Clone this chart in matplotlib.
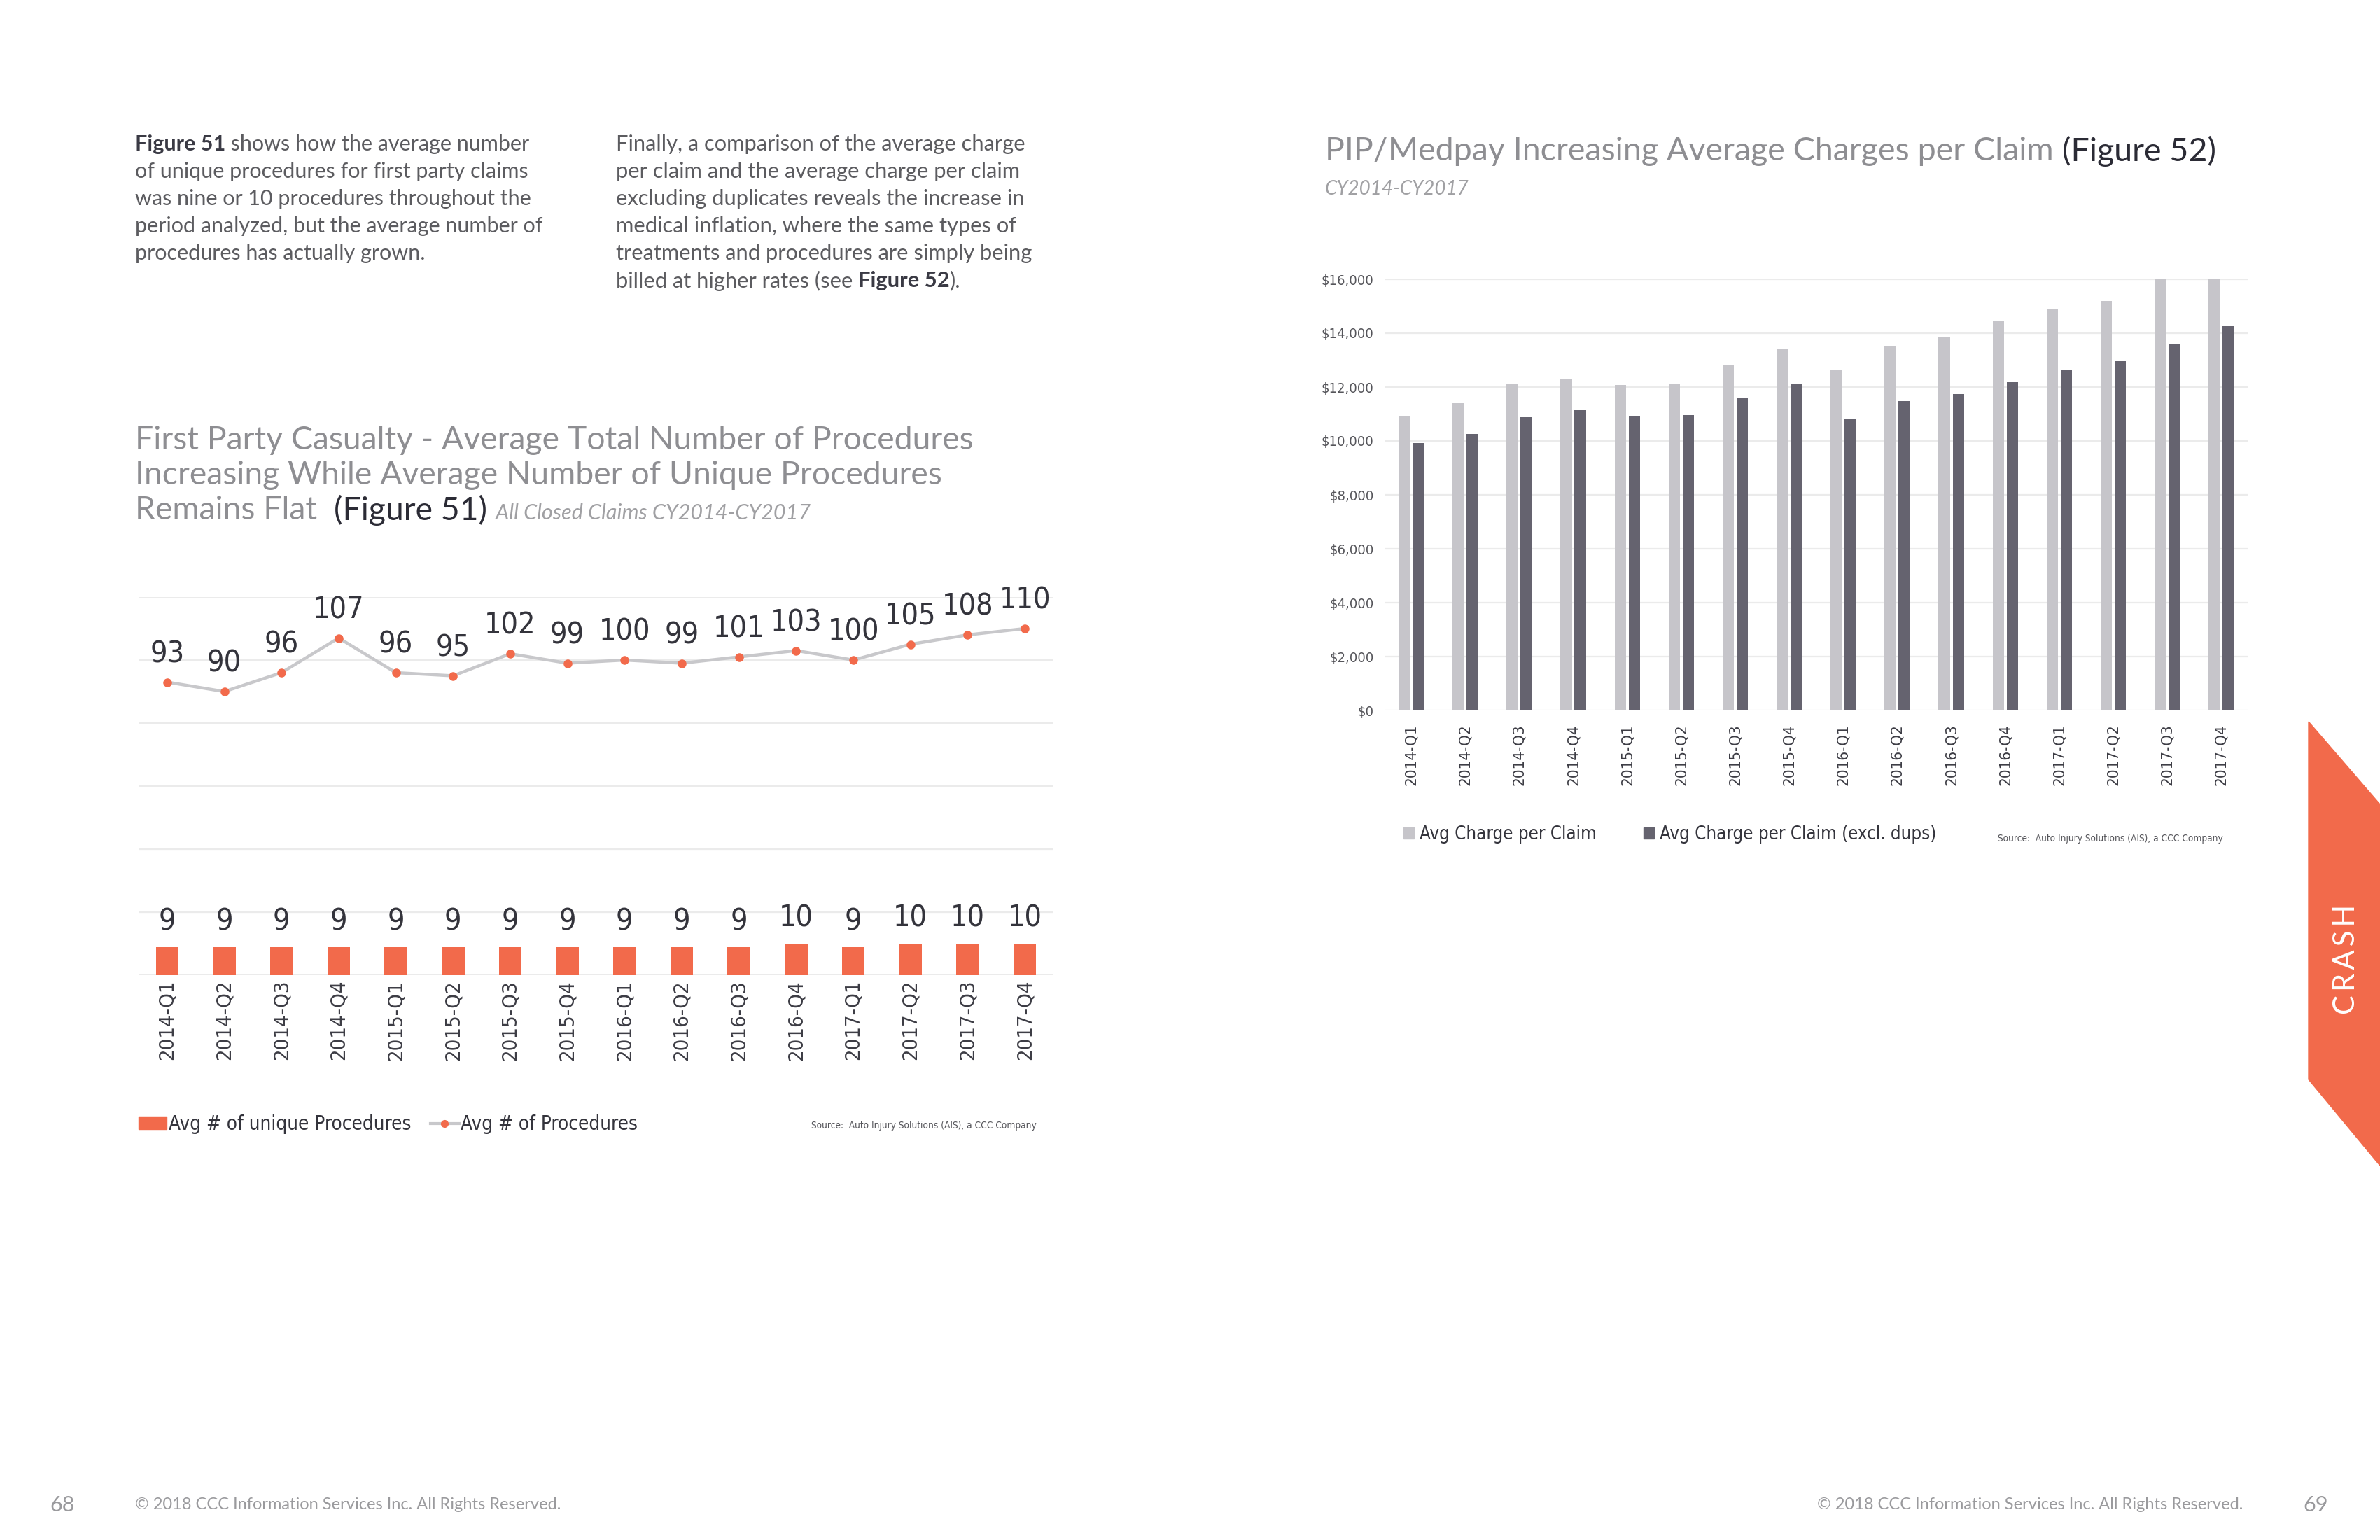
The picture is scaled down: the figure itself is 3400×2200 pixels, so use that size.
import matplotlib
matplotlib.use("Agg")
import matplotlib.pyplot as plt
from matplotlib.patches import Patch, Polygon
from matplotlib.lines import Line2D
import numpy as np

# ---- data ----
quarters = ["2014-Q1", "2014-Q2", "2014-Q3", "2014-Q4", "2015-Q1", "2015-Q2", "2015-Q3", "2015-Q4",
            "2016-Q1", "2016-Q2", "2016-Q3", "2016-Q4", "2017-Q1", "2017-Q2", "2017-Q3", "2017-Q4"]
avg_procedures = [93, 90, 96, 107, 96, 95, 102, 99, 100, 99, 101, 103, 100, 105, 108, 110]
avg_unique = [9, 9, 9, 9, 9, 9, 9, 9, 9, 9, 9, 10, 9, 10, 10, 10]
charge_per_claim = [10930, 11390, 12120, 12310, 12070, 12120, 12840, 13390,
                    12620, 13510, 13870, 14480, 14890, 15200, 16300, 16700]
charge_excl_dups = [9930, 10260, 10880, 11130, 10930, 10970, 11600, 12120,
                    10830, 11490, 11740, 12170, 12620, 12970, 13590, 14270]
y_ticks_fig52 = [0, 2000, 4000, 6000, 8000, 10000, 12000, 14000, 16000]

W, H = 3400, 2200
ORANGE = "#F26A4B"
LIGHT = "#C6C5CA"
DARK = "#65636F"
GRID = "#EBEBEB"
TITLE_GRAY = "#8E8E92"
TEXT_GRAY = "#5C5C60"
NARROW = ["DejaVu Sans"]
GOTHAM = ["Lato", "DejaVu Sans"]

plt.rcParams["font.family"] = GOTHAM

fig = plt.figure(figsize=(34, 22), dpi=100)
renderer = fig.canvas.get_renderer()


def fx(x):
    return x / W


def fy(y):
    return 1 - y / H


def rich_line(x, y, parts, size, va="center"):
    """Draw a row of text runs side by side; parts = [(text, dict_of_props)]."""
    cur = x
    for txt, props in parts:
        t = fig.text(fx(cur), fy(y), txt, fontsize=size, va=va, ha="left", **props)
        bb = t.get_window_extent(renderer=renderer)
        cur += bb.width
    return cur


narrow = dict(family=NARROW, stretch="condensed")
body = dict(color=TEXT_GRAY, fontweight="normal", family=GOTHAM)
bold = dict(color="#3A3A44", fontweight="bold", family=GOTHAM)

# ---- body copy ----
left_lines = [
    [("Figure 51", bold), (" shows how the average number", body)],
    [("of unique procedures for first party claims", body)],
    [("was nine or 10 procedures throughout the", body)],
    [("period analyzed, but the average number of", body)],
    [("procedures has actually grown.", body)],
]
right_lines = [
    [("Finally, a comparison of the average charge", body)],
    [("per claim and the average charge per claim", body)],
    [("excluding duplicates reveals the increase in", body)],
    [("medical inflation, where the same types of", body)],
    [("treatments and procedures are simply being", body)],
    [("billed at higher rates (see ", body), ("Figure 52", bold), (").", body)],
]
for i, ln in enumerate(left_lines):
    rich_line(193, 206 + i * 39, ln, 22)
for i, ln in enumerate(right_lines):
    rich_line(880, 206 + i * 39, ln, 22.2)

# ---- titles ----
ttl = dict(color=TITLE_GRAY, fontweight="normal", family=GOTHAM)
dark = dict(color="#2B2B35", fontweight="normal", family=GOTHAM)
ital = dict(color="#A0A0A3", fontweight="normal", style="italic", family=GOTHAM)
rich_line(193, 629, [("First Party Casualty - Average Total Number of Procedures", ttl)], 33.4)
rich_line(193, 679, [("Increasing While Average Number of Unique Procedures", ttl)], 33.4)
end = rich_line(193, 729, [("Remains Flat  ", ttl), ("(Figure 51)", dark)], 33.4)
rich_line(end + 12, 733, [("All Closed Claims CY2014-CY2017", ital)], 22)

rich_line(1893, 216, [("PIP/Medpay Increasing Average Charges per Claim ", ttl), ("(Figure 52)", dark)], 33.6)
rich_line(1893, 270, [("CY2014-CY2017", ital)], 20)

# ---- Figure 51 ----
ax1 = fig.add_axes([fx(198), fy(1393), fx(1505) - fx(198), fy(853) - fy(1393)])
x = np.arange(len(quarters))
ax1.bar(x, avg_unique, width=0.4, color=ORANGE, zorder=2)
ax1.plot(x, avg_procedures, color="#C8C8CB", lw=3.2, marker="o", ms=8,
         mfc=ORANGE, mec=ORANGE, zorder=3)
for xi, v in zip(x, avg_procedures):
    ax1.annotate(str(v), (xi, v), xytext=(0, 14), textcoords="offset points",
                 ha="center", va="bottom", fontsize=31, color="#34343C", **narrow)
for xi, v in zip(x, avg_unique):
    ax1.annotate(str(v), (xi, v), xytext=(0, 11), textcoords="offset points",
                 ha="center", va="bottom", fontsize=31, color="#34343C", **narrow)
ax1.set_xlim(-0.5, len(quarters) - 0.5)
ax1.set_ylim(0, 120)
ax1.set_yticks(range(0, 121, 20))
ax1.yaxis.grid(True, color=GRID, lw=1.6, zorder=0)
ax1.set_axisbelow(True)
ax1.tick_params(axis="y", left=False, labelleft=False)
ax1.tick_params(axis="x", length=0, pad=5)
ax1.set_xticks(x)
ax1.set_xticklabels(quarters, rotation=90, fontsize=21, color="#3C3C44", **narrow)
for s in ax1.spines.values():
    s.set_visible(False)

leg1 = fig.legend(
    handles=[Patch(color=ORANGE, label="Avg # of unique Procedures"),
             Line2D([], [], color="#C8C8CB", lw=3, marker="o", ms=7, mfc=ORANGE, mec=ORANGE,
                    label="Avg # of Procedures")],
    loc="center left", bbox_to_anchor=(fx(198), fy(1606)), ncol=2, frameon=False,
    prop={"family": NARROW, "stretch": "condensed", "size": 20}, handlelength=1.45,
    handleheight=0.6, handletextpad=0.1, columnspacing=1.0, borderaxespad=0, borderpad=0)
for t in leg1.get_texts():
    t.set_color("#34343C")

fig.text(fx(1481), fy(1608), "Source:  Auto Injury Solutions (AIS), a CCC Company", ha="right",
         va="center", fontsize=9.8, color="#55555A", **narrow)

# ---- Figure 52 ----
ax2 = fig.add_axes([fx(1979), fy(1015), fx(3212) - fx(1979), fy(399) - fy(1015)])
ax2.bar(x - 0.13, charge_per_claim, width=0.21, color=LIGHT, zorder=2)
ax2.bar(x + 0.13, charge_excl_dups, width=0.21, color=DARK, zorder=2)
ax2.set_xlim(-0.48, len(quarters) - 0.5)
ax2.set_ylim(0, 16000)
ax2.set_yticks(y_ticks_fig52)
ax2.set_yticklabels([f"${v:,.0f}" for v in y_ticks_fig52], fontsize=14.5, color="#55555A", **narrow)
ax2.yaxis.grid(True, color=GRID, lw=1.6, zorder=0)
ax2.set_axisbelow(True)
ax2.tick_params(axis="y", length=0, pad=12)
ax2.tick_params(axis="x", length=0, pad=14)
ax2.set_xticks(x)
ax2.set_xticklabels(quarters, rotation=90, fontsize=16, color="#3C3C44", **narrow)
for s in ax2.spines.values():
    s.set_visible(False)

leg2 = fig.legend(
    handles=[Patch(color=LIGHT, label="Avg Charge per Claim"),
             Patch(color=DARK, label="Avg Charge per Claim (excl. dups)")],
    loc="center left", bbox_to_anchor=(fx(2005), fy(1192)), ncol=2, frameon=False,
    prop={"family": NARROW, "stretch": "condensed", "size": 18.5}, handlelength=0.6,
    handleheight=0.6, handletextpad=0.3, columnspacing=2.6, borderaxespad=0, borderpad=0)
for t in leg2.get_texts():
    t.set_color("#34343C")

fig.text(fx(3176), fy(1198), "Source:  Auto Injury Solutions (AIS), a CCC Company", ha="right",
         va="center", fontsize=9.8, color="#55555A", **narrow)

# ---- side tab ----
tab = Polygon([(fx(3298), fy(1031)), (fx(3400), fy(1149)), (fx(3400), fy(1665)), (fx(3298), fy(1542))],
              closed=True, color=ORANGE, transform=fig.transFigure)
fig.patches.append(tab)
fig.text(fx(3352), fy(1370), "C\u2009R\u2009A\u2009S\u2009H", rotation=90, ha="center", va="center",
         fontsize=30, color="white", fontweight="normal", family=GOTHAM)

# ---- footer ----
foot = dict(color="#9A9A9D", fontweight="normal", family=GOTHAM)
fig.text(fx(89), fy(2150), "68", ha="center", va="center", fontsize=22, **foot)
fig.text(fx(3308), fy(2150), "69", ha="center", va="center", fontsize=22, **foot)
fig.text(fx(193), fy(2150), "\u00a9 2018 CCC Information Services Inc. All Rights Reserved.",
         ha="left", va="center", fontsize=17, **foot)
fig.text(fx(3204), fy(2150), "\u00a9 2018 CCC Information Services Inc. All Rights Reserved.",
         ha="right", va="center", fontsize=17, **foot)

fig.savefig("out.png", dpi=100, facecolor="white")
